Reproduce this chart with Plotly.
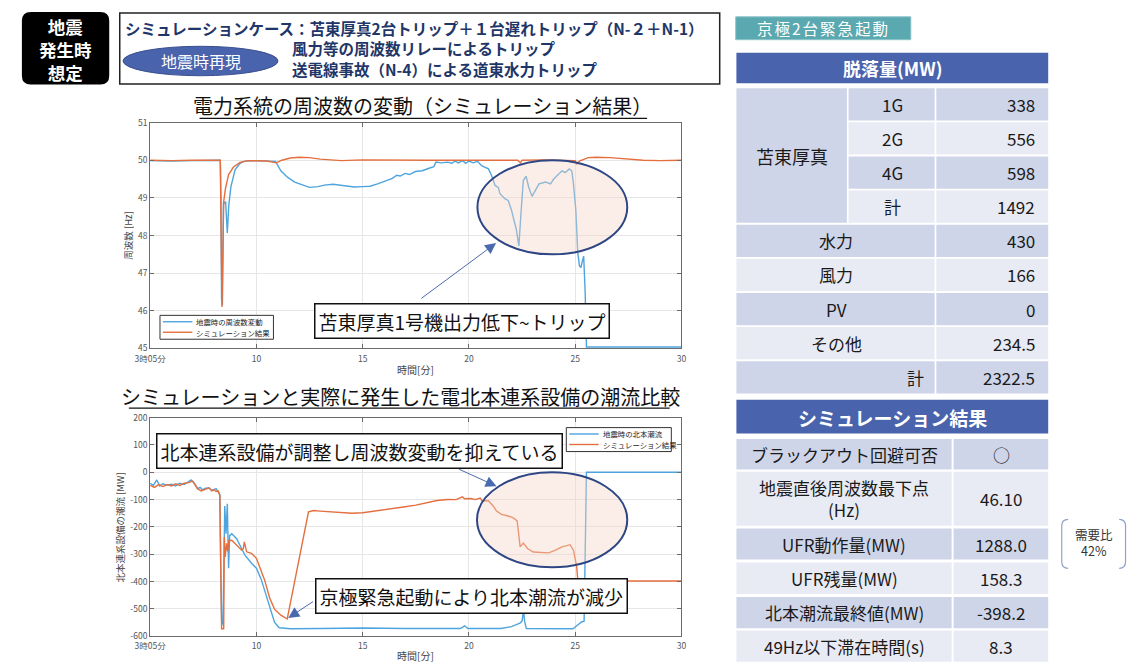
import plotly.graph_objects as go

FONT = "Noto Sans CJK JP"
W, H = 1133, 668
BLUE = "#4ea4de"
ORANGE = "#e46f3e"
NAVY = "#2e4784"
HEAD_BLUE = "#4a63ad"
ROW_DARK = "#cfd5e9"
ROW_LIGHT = "#e9ebf4"

# ---- frequency (minutes after 3:00) ----
freq_real_t = [5.0, 6.0, 7.0, 8.0, 8.3, 8.33, 8.36, 8.4, 8.45, 8.5, 8.55, 8.63, 8.7, 8.8, 9.0,
               9.2, 9.4, 9.8, 10.5, 10.9, 11.15, 11.46, 11.8, 12.2, 12.5, 12.9, 13.2, 13.6,
               13.9, 14.3, 14.6, 15.0, 15.35, 15.7, 16.06, 16.4, 16.6, 16.77, 17.0, 17.2,
               17.48, 17.8, 18.19, 18.35, 18.45, 18.7, 19.0, 19.2, 19.35, 19.5, 19.7, 19.85,
               20.0, 20.2, 20.4, 20.61, 20.92, 21.07, 21.23, 21.38, 21.46, 21.69, 21.85, 22.0,
               22.23, 22.35, 22.46, 22.56, 22.69, 22.81, 22.97, 23.12, 23.3, 23.61, 23.84,
               23.99, 24.22, 24.38, 24.53, 24.72, 24.84, 24.92, 25.03, 25.12, 25.2, 25.27,
               25.33, 25.4, 25.47, 25.53, 30.0]
freq_real_hz = [49.99, 49.98, 49.99, 50.0, 50.0, 49.0, 46.3, 46.15, 48.9, 48.85, 48.9, 48.07,
                48.8, 49.3, 49.75, 49.9, 49.97, 49.99, 49.98, 49.97, 49.72, 49.55, 49.42,
                49.33, 49.28, 49.3, 49.34, 49.36, 49.34, 49.31, 49.29, 49.3, 49.31, 49.37,
                49.45, 49.52, 49.6, 49.58, 49.65, 49.62, 49.7, 49.72, 49.8, 49.83, 49.95,
                49.93, 49.95, 49.92, 49.98, 49.93, 49.99, 49.92, 49.98, 49.93, 49.97, 49.85,
                49.77, 49.59, 49.33, 49.28, 49.11, 48.98, 48.93, 48.68, 48.16, 47.72, 48.68,
                49.46, 49.58, 49.29, 49.04, 49.2, 49.37, 49.42, 49.37, 49.5, 49.63, 49.72,
                49.67, 49.77, 49.72, 49.37, 48.68, 47.55, 47.2, 47.15, 47.3, 47.45, 46.5,
                45.04, 45.04]

freq_sim_t = [5.0, 6.0, 7.0, 8.0, 8.3, 8.34, 8.38, 8.46, 8.54, 8.69, 8.92, 9.23, 9.6, 10.5,
              10.93, 11.2, 11.6, 12.0, 12.5, 13.0, 13.5, 14.0, 15.0, 16.0, 17.0, 18.0, 19.0,
              20.0, 21.0, 22.3, 22.42, 22.5, 23.5, 24.5, 25.0, 25.08, 25.2, 25.61, 26.0,
              26.64, 27.2, 27.7, 28.2, 29.0, 30.0]
freq_sim_hz = [50.0, 49.99, 50.0, 50.01, 50.0, 48.0, 46.1, 48.9, 49.24, 49.62, 49.82, 49.94,
               49.99, 49.98, 49.93, 50.0, 50.06, 50.08, 50.07, 50.03, 50.0, 49.99, 50.01,
               50.0, 50.01, 50.0, 50.0, 50.0, 50.0, 50.0, 49.93, 50.0, 50.01, 50.0, 49.99,
               49.9, 49.98, 50.07, 50.08, 50.07, 50.04, 50.01, 50.0, 49.99, 50.0]

# ---- Hokkaido-Honshu tie-line flow (MW) ----
flow_real_t = [5.0, 5.15, 5.31, 5.45, 5.6, 5.77, 6.0, 6.2, 6.38, 6.6, 6.8, 6.92, 7.08, 7.23,
               7.35, 7.46, 7.6, 7.77, 7.9, 8.0, 8.1, 8.2, 8.28, 8.32, 8.37, 8.43, 8.47, 8.51,
               8.57, 8.63, 8.69, 8.74, 8.84, 9.07, 9.3, 9.46, 9.77, 10.0, 10.23, 10.46,
               10.69, 10.85, 11.07, 11.61, 13.0, 15.0, 17.0, 19.6, 19.8, 19.95, 21.5, 22.0,
               22.4, 22.5, 22.57, 22.62, 22.7, 24.9, 25.1, 25.3, 25.42, 25.48, 25.53, 30.0]
flow_real_mw = [-40, -48, -28, -50, -42, -47, -44, -50, -40, -45, -35, -28, -40, -60, -55,
                -64, -58, -57, -66, -64, -60, -72, -81, -350, -560, -543, -300, -123, -225,
                -115, -351, -232, -225, -243, -279, -303, -333, -351, -393, -453, -513,
                -549, -569, -573, -572, -570, -572, -572, -562, -572, -572, -565, -552,
                -545, -505, -545, -572, -573, -560, -548, -545, -300, 0, 0]

flow_sim_t = [5.0, 5.2, 5.4, 5.6, 5.8, 6.0, 6.2, 6.4, 6.6, 6.8, 7.0, 7.1, 7.23, 7.4, 7.6,
              7.77, 7.9, 8.0, 8.1, 8.2, 8.28, 8.33, 8.36, 8.46, 8.49, 8.53, 8.6, 8.65, 8.7,
              8.84, 9.07, 9.3, 9.38, 9.43, 9.54, 9.77, 10.0, 10.15, 10.38, 10.62, 10.85,
              11.15, 11.38, 11.45, 12.45, 12.7, 13.0, 13.5, 14.0, 14.5, 15.0, 15.5, 16.0,
              16.5, 17.0, 17.5, 18.0, 18.5, 19.0, 19.4, 19.69, 19.8, 20.1, 20.3, 20.53,
              20.61, 20.92, 21.15, 21.3, 21.53, 21.84, 22.07, 22.27, 22.41, 22.56, 22.77,
              23.03, 23.46, 23.76, 24.07, 24.38, 24.76, 24.92, 25.07, 25.13, 25.2, 25.3,
              27.0, 30.0]
flow_sim_mw = [-48, -55, -45, -52, -45, -50, -42, -48, -40, -38, -32, -45, -60, -68, -62,
               -57, -68, -64, -70, -68, -85, -400, -573, -573, -237, -310, -260, -290, -250,
               -249, -267, -285, -280, -255, -291, -297, -315, -345, -393, -459, -501, -523,
               -534, -537, -145, -140, -142, -145, -147, -150, -148, -143, -138, -132, -126,
               -120, -112, -103, -99.5, -100, -90, -97, -96, -100, -94, -104, -104, -124,
               -142, -154, -160, -166, -178, -273, -259, -280, -292, -295, -295, -285, -273,
               -265, -285, -345, -400, -410, -398, -398, -398]

time_ticks = [5, 10, 15, 20, 25, 30]
time_ticktext = ["3時05分", "10", "15", "20", "25", "30"]
flow_ticks = [-600, -500, -400, -300, -200, -100, 0, 100, 200]

# ---- tables ----
tomato_units = ["1G", "2G", "4G", "計"]
tomato_mw = ["338", "556", "598", "1492"]
other_sources = ["水力", "風力", "PV", "その他"]
other_mw = ["430", "166", "0", "234.5"]
total_label = "計"
total_mw = "2322.5"

result_items = ["ブラックアウト回避可否", "地震直後周波数最下点<br>(Hz)", "UFR動作量(MW)",
                "UFR残量(MW)", "北本潮流最終値(MW)", "49Hz以下滞在時間(s)"]
result_values = ["○", "46.10", "1288.0", "158.3", "-398.2", "8.3"]
demand_ratio_note = "需要比<br>42%"
scenario_badge = "地震<br>発生時<br>想定"


def pp(x, y):
    return f"{x / W:.5f},{1 - y / H:.5f}"


def rect(x0, y0, x1, y1, fill, line=None, lw=0):
    return dict(type="rect", xref="paper", yref="paper", x0=x0 / W, x1=x1 / W,
                y0=1 - y1 / H, y1=1 - y0 / H, fillcolor=fill,
                line=dict(color=line or fill, width=lw))


def rrect(x0, y0, x1, y1, r, fill, line=None, lw=0):
    path = (f"M{pp(x0 + r, y0)} L{pp(x1 - r, y0)} Q{pp(x1, y0)} {pp(x1, y0 + r)} "
            f"L{pp(x1, y1 - r)} Q{pp(x1, y1)} {pp(x1 - r, y1)} L{pp(x0 + r, y1)} "
            f"Q{pp(x0, y1)} {pp(x0, y1 - r)} L{pp(x0, y0 + r)} Q{pp(x0, y0)} {pp(x0 + r, y0)} Z")
    return dict(type="path", xref="paper", yref="paper", path=path, fillcolor=fill,
                line=dict(color=line or fill, width=lw))


def hline(x0, x1, y, color, lw=1):
    return dict(type="line", xref="paper", yref="paper", x0=x0 / W, x1=x1 / W,
                y0=1 - y / H, y1=1 - y / H, line=dict(color=color, width=lw))


def label(x, y, s, size, color="#1a1a1a", anchor="center", angle=0):
    return dict(xref="paper", yref="paper", x=x / W, y=1 - y / H, text=s, showarrow=False,
                xanchor=anchor, yanchor="middle", textangle=angle,
                font=dict(family=FONT, size=size, color=color))


fig = go.Figure()
fig.add_trace(go.Scatter(x=freq_real_t, y=freq_real_hz, mode="lines", name="地震時の周波数変動",
                         line=dict(color=BLUE, width=1.4), xaxis="x", yaxis="y"))
fig.add_trace(go.Scatter(x=freq_sim_t, y=freq_sim_hz, mode="lines", name="シミュレーション結果",
                         line=dict(color=ORANGE, width=1.4), xaxis="x", yaxis="y"))
fig.add_trace(go.Scatter(x=flow_real_t, y=flow_real_mw, mode="lines", name="地震時の北本潮流",
                         line=dict(color=BLUE, width=1.4), xaxis="x2", yaxis="y2"))
fig.add_trace(go.Scatter(x=flow_sim_t, y=flow_sim_mw, mode="lines", name="シミュレーション結果",
                         line=dict(color=ORANGE, width=1.4), xaxis="x2", yaxis="y2"))

ax = dict(showline=True, linecolor="#6b6b6b", linewidth=1, mirror="ticks", ticks="inside",
          ticklen=4, tickcolor="#6b6b6b", showgrid=True, gridcolor="#e6e6e6", zeroline=False,
          tickfont=dict(family=FONT, size=8.5, color="#555555"))
xdom = [136.7 / W, 678 / W]

shapes = []
annotations = []

# ellipses highlighting the trip period
shapes.append(dict(type="circle", xref="x", yref="y", x0=20.4, x1=27.45, y0=47.5, y1=50.0,
                   fillcolor="rgba(245,212,197,0.4)", line=dict(color=NAVY, width=2)))
shapes.append(dict(type="circle", xref="x2", yref="y2", x0=20.38, x1=27.45, y0=-348, y1=0,
                   fillcolor="rgba(245,212,197,0.4)", line=dict(color=NAVY, width=2)))

# callouts
box = dict(showarrow=False, bgcolor="white", bordercolor="#111111", borderwidth=1.5,
           borderpad=3, font=dict(family=FONT, size=19, color="#111111"))
annotations.append(dict(xref="x", yref="y", x=19.67, y=45.72, text="苫東厚真1号機出力低下~トリップ", **box))
annotations.append(dict(xref="x2", yref="y2", x=14.84, y=77, text="北本連系設備が調整し周波数変動を抑えている", **box))
annotations.append(dict(xref="x2", yref="y2", x=20.13, y=-453, text="京極緊急起動により北本潮流が減少", **box))

arrow = dict(text="", showarrow=True, arrowhead=2, arrowsize=2.2, arrowwidth=1,
             arrowcolor="#4a6ab0", standoff=0)
annotations.append(dict(xref="x", yref="y", axref="x", ayref="y", x=21.28, y=47.8,
                        ax=17.69, ay=46.3, **arrow))
annotations.append(dict(xref="x2", yref="y2", axref="x2", ayref="y2", x=21.3, y=-51,
                        ax=19.46, ay=14, **arrow))
annotations.append(dict(xref="x2", yref="y2", axref="x2", ayref="y2", x=11.5, y=-533,
                        ax=12.73, ay=-470, **arrow))

# chart titles
annotations.append(label(414, 100.5, "電力系統の周波数の変動（シミュレーション結果）", 20, "#111111"))
shapes.append(hline(187, 643, 113.5, "#111111", 1.2))
annotations.append(label(392, 397, "シミュレーションと実際に発生した電北本連系設備の潮流比較", 20, "#111111"))
shapes.append(hline(115, 666, 408.5, "#111111", 1.2))

# axis titles
annotations.append(label(407, 369, "時間[分]", 10, "#444444"))
annotations.append(label(407, 660, "時間[分]", 10, "#444444"))
annotations.append(label(114, 233, "周波数 [Hz]", 9.5, "#444444", angle=-90))
annotations.append(label(106, 530, "北本連系設備の潮流 [MW]", 9.5, "#444444", angle=-90))

# legends (drawn by hand to keep the compact MATLAB look)
for (bx0, by0, bx1, by1, names) in [
        (146.7, 314, 262.3, 338.3, ["地震時の周波数変動", "シミュレーション結果"]),
        (560.7, 428.3, 667.7, 452.7, ["地震時の北本潮流", "シミュレーション結果"])]:
    shapes.append(rect(bx0, by0, bx1, by1, "white", "#333333", 1))
    for k, (nm, col) in enumerate(zip(names, [BLUE, ORANGE])):
        yy = by0 + 6.5 + k * 10.7
        shapes.append(hline(bx0 + 3, bx0 + 33, yy, col, 1.4))
        annotations.append(label(bx0 + 35, yy, nm, 7.4, "#222222", anchor="left"))

# ---- header ----
shapes.append(rrect(6, 5, 95, 79, 9, "#000000"))
annotations.append(label(50.5, 43.5, f"<b>{scenario_badge}</b>", 17.5, "white"))
shapes.append(rect(105.7, 6, 717, 78.3, "white", "#222222", 1.5))
shapes.append(dict(type="circle", xref="paper", yref="paper", x0=109 / W, x1=267 / W,
                   y0=1 - 70 / H, y1=1 - 40 / H, fillcolor="#4a63ad",
                   line=dict(color="#3a4f8f", width=1)))
annotations.append(label(188, 55, "地震時再現", 16, "white"))
HDR = "#1f3668"
annotations.append(label(109, 21.7, "<b>シミュレーションケース：苫東厚真2台トリップ＋１台遅れトリップ（N-２＋N-1）</b>", 15.5, HDR, anchor="left"))
annotations.append(label(279.5, 41.7, "<b>風力等の周波数リレーによるトリップ</b>", 15.5, HDR, anchor="left"))
annotations.append(label(279.5, 63.3, "<b>送電線事故（N-4）による道東水力トリップ</b>", 15.5, HDR, anchor="left"))

shapes.append(rect(733.3, 10, 911.7, 33.3, "#5aa8b0", "#8cc4c9", 1))
annotations.append(label(822.5, 21.7, '<span style="letter-spacing:2px">京極2台緊急起動</span>', 15.5, "white"))

# ---- table: 脱落量 ----
TX0, TX1 = 734, 1051.7
C1, C2 = 848.3, 937.7
shapes.append(rect(TX0, 46.7, TX1, 77.7, HEAD_BLUE))
annotations.append(label((TX0 + TX1) / 2, 62.2, "<b>脱落量(MW)</b>", 18, "white"))
row_top, pitch, cell_h = 82.7, 34.75, 32.8
n_rows = len(tomato_units) + len(other_sources) + 1
tops = [row_top + i * pitch for i in range(n_rows)]
fills = [ROW_DARK if i % 2 == 0 else ROW_LIGHT for i in range(n_rows)]
shapes.append(rect(TX0, tops[0], C1 - 1.7, tops[3] + cell_h, ROW_DARK))
annotations.append(label((TX0 + C1) / 2, (tops[0] + tops[3] + cell_h) / 2, "苫東厚真", 18))
for i, (u, v) in enumerate(zip(tomato_units, tomato_mw)):
    t = tops[i]
    shapes.append(rect(C1, t, C2 - 1.7, t + cell_h, fills[i]))
    shapes.append(rect(C2, t, TX1, t + cell_h, fills[i]))
    annotations.append(label((C1 + C2) / 2, t + cell_h / 2, u, 17))
    annotations.append(label(1040, t + cell_h / 2, v, 17, anchor="right"))
for j, (s, v) in enumerate(zip(other_sources + [total_label], other_mw + [total_mw])):
    i = len(tomato_units) + j
    t = tops[i]
    shapes.append(rect(TX0, t, C2 - 1.7, t + cell_h, fills[i]))
    shapes.append(rect(C2, t, TX1, t + cell_h, fills[i]))
    if s == total_label:
        annotations.append(label(916, t + cell_h / 2, s, 17))
    else:
        annotations.append(label((TX0 + C2) / 2, t + cell_h / 2, s, 17))
    annotations.append(label(1040, t + cell_h / 2, v, 17, anchor="right"))

# ---- table: シミュレーション結果 ----
shapes.append(rect(TX0, 400, TX1, 434.3, HEAD_BLUE))
annotations.append(label((TX0 + TX1) / 2, 417.5, "<b>シミュレーション結果</b>", 19, "white"))
R0 = 955.3
res_spans = [(440, 471), (473.3, 528.3), (531, 562.7), (565.7, 597.7), (600.7, 632.7), (635, 666.7)]
for i, ((t, b), item, val) in enumerate(zip(res_spans, result_items, result_values)):
    f = ROW_DARK if i % 2 == 0 else ROW_LIGHT
    shapes.append(rect(TX0, t, R0 - 2, b, f))
    shapes.append(rect(R0, t, TX1, b, f))
    annotations.append(label(844, (t + b) / 2, item, 17))
    annotations.append(label(1004, (t + b) / 2, val, 17))

# 需要比 bracket
for side in (0, 1):
    if side == 0:
        p = f"M{pp(1072, 521.7)} Q{pp(1065.5, 521.7)} {pp(1065.5, 528.5)} L{pp(1065.5, 565)} Q{pp(1065.5, 571.7)} {pp(1072, 571.7)}"
    else:
        p = f"M{pp(1124, 521.7)} Q{pp(1130.5, 521.7)} {pp(1130.5, 528.5)} L{pp(1130.5, 565)} Q{pp(1130.5, 571.7)} {pp(1124, 571.7)}"
    shapes.append(dict(type="path", xref="paper", yref="paper", path=p,
                       line=dict(color="#8fa2cc", width=1.2)))
annotations.append(label(1098, 545.5, demand_ratio_note, 12.5, "#333333"))

fig.update_layout(
    width=W, height=H, margin=dict(l=0, r=0, t=0, b=0),
    paper_bgcolor="white", plot_bgcolor="white", showlegend=False,
    font=dict(family=FONT),
    xaxis=dict(domain=xdom, range=[5, 30], tickvals=time_ticks, ticktext=time_ticktext,
               anchor="y", ticklabelstandoff=2, **ax),
    yaxis=dict(domain=[1 - 347.7 / H, 1 - 117.7 / H], range=[45, 51], dtick=1, anchor="x", **ax),
    xaxis2=dict(domain=xdom, range=[5, 30], tickvals=time_ticks, ticktext=time_ticktext,
                anchor="y2", ticklabelstandoff=2, **ax),
    yaxis2=dict(domain=[1 - 640.7 / H, 1 - 418.2 / H], range=[-600, 200], tickvals=flow_ticks,
                ticktext=[str(v) for v in flow_ticks], anchor="x2", **ax),
    shapes=shapes,
    annotations=annotations,
)

# the page's default body margin would push the 1133x668 figure out of the window
fig.write_html("out.html", config={"displayModeBar": False},
               post_script="document.body.style.margin='0';")
